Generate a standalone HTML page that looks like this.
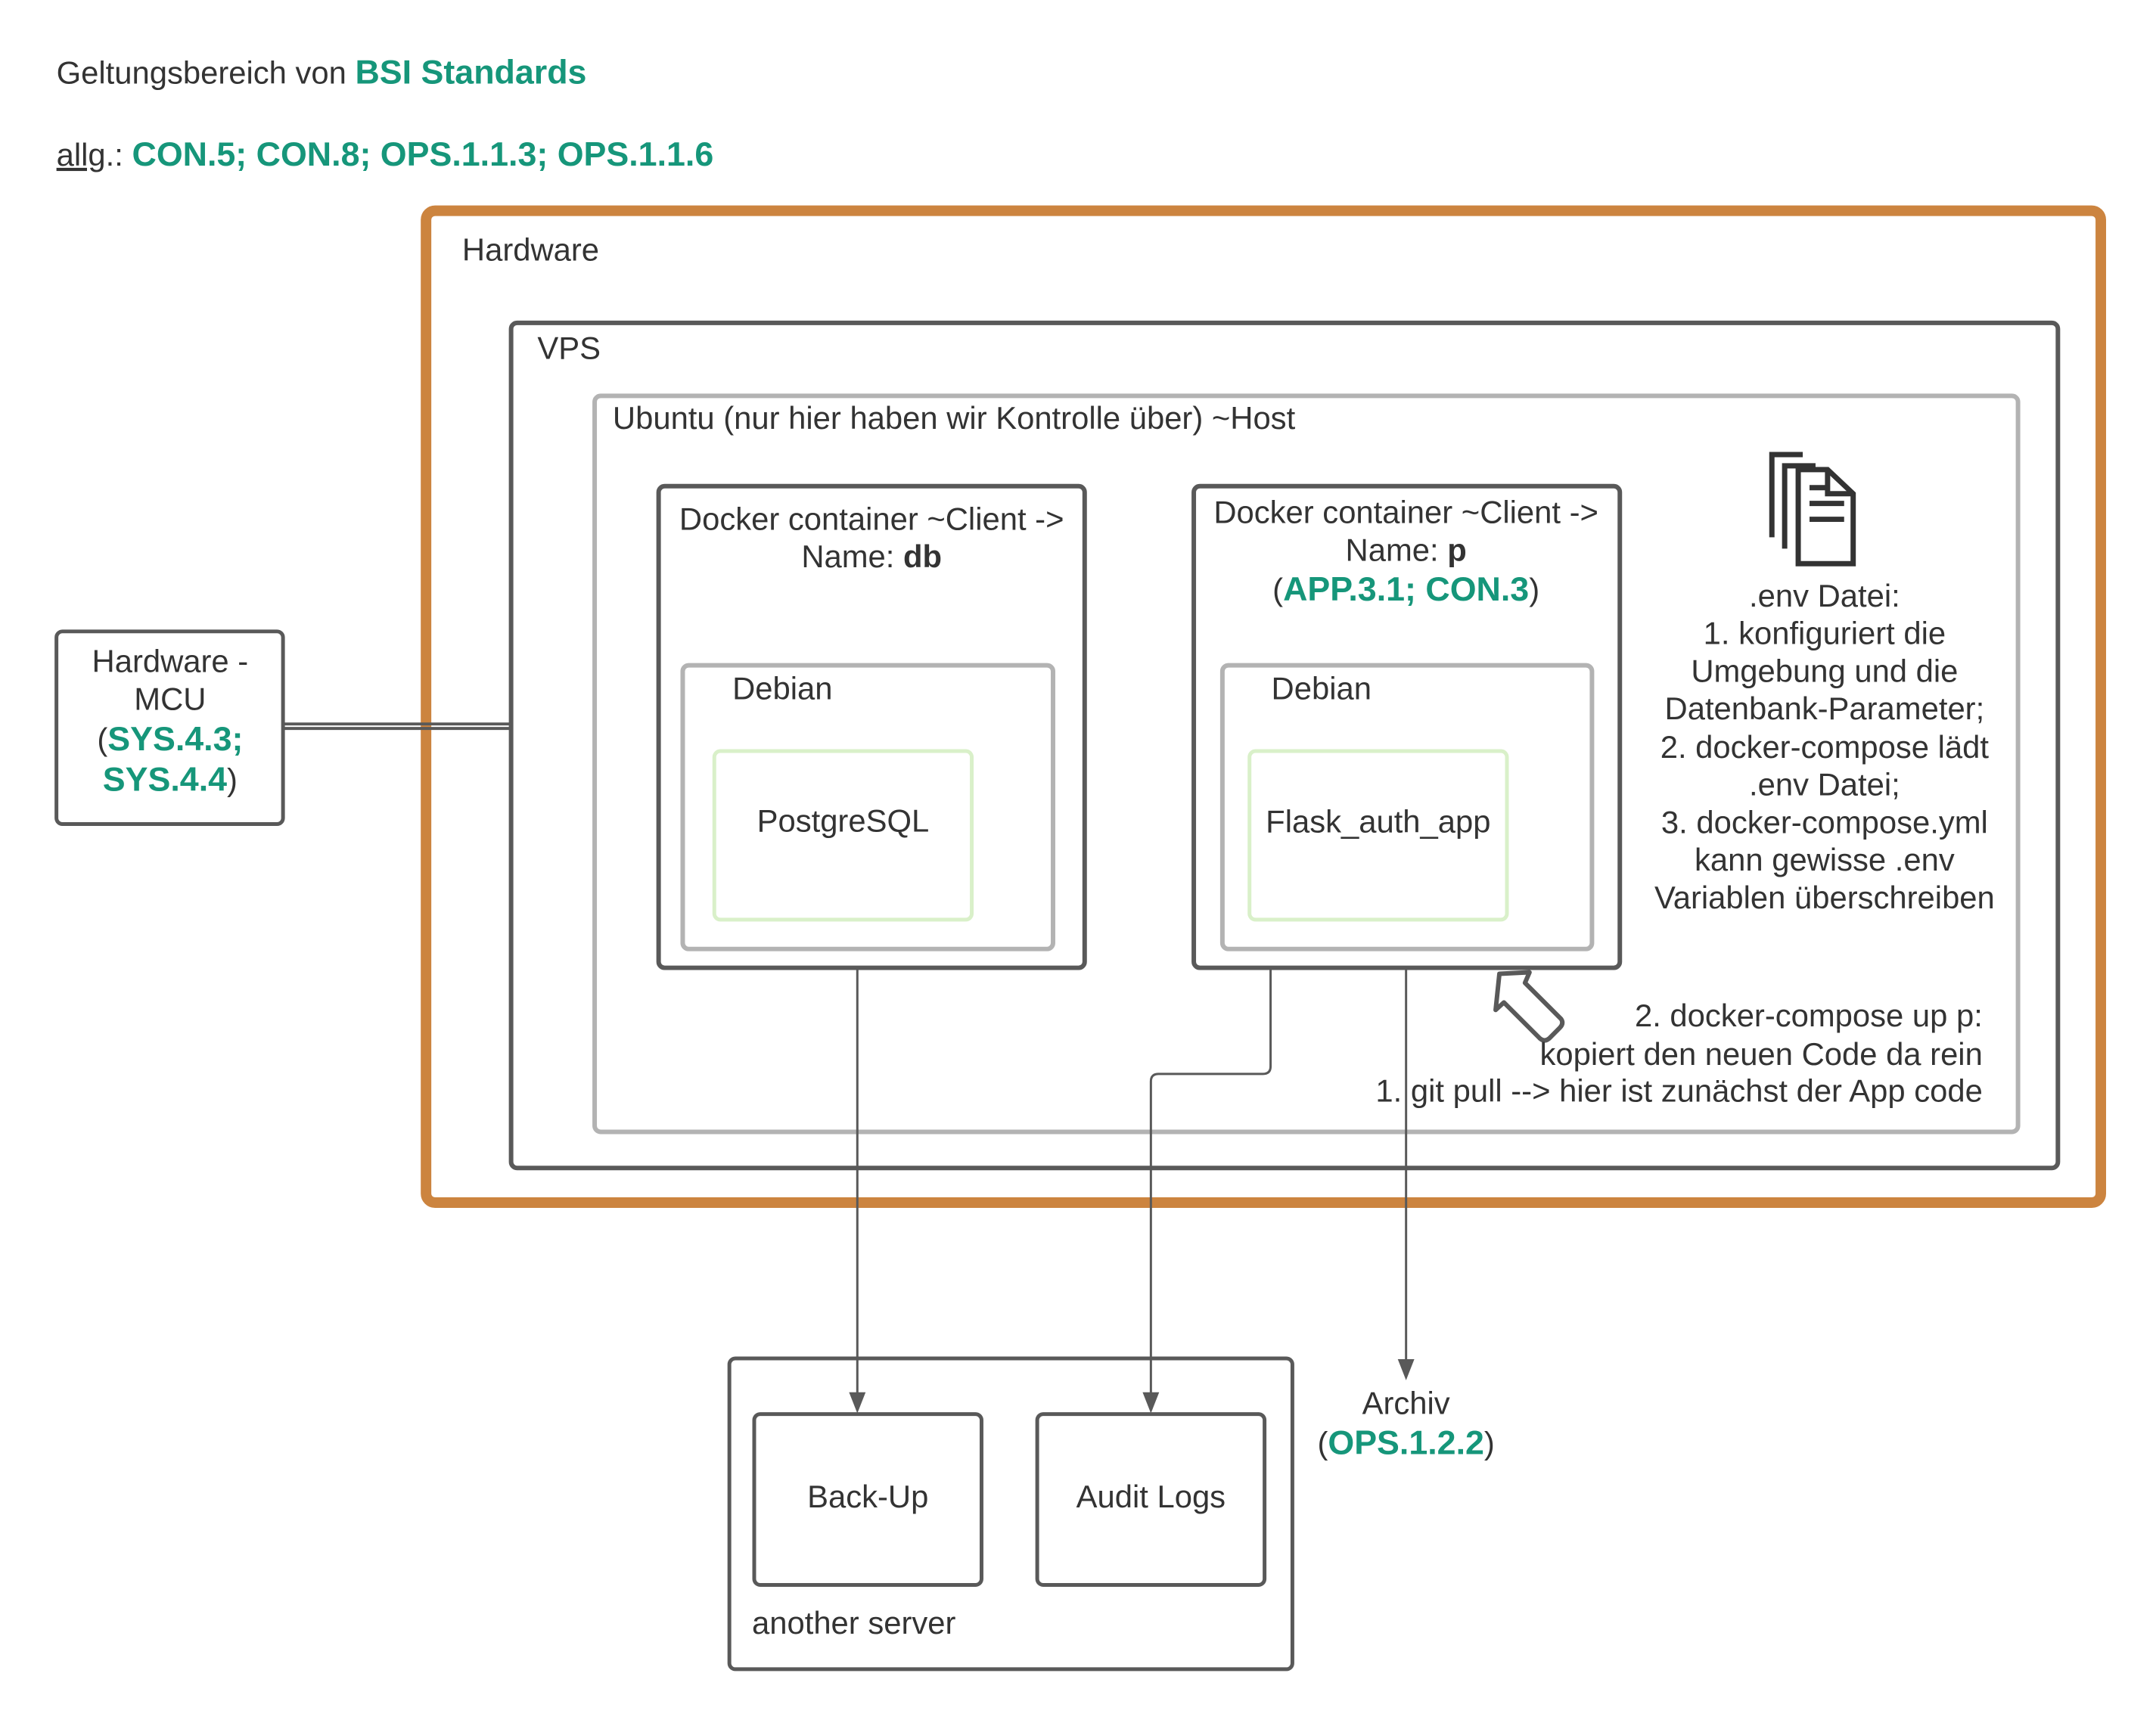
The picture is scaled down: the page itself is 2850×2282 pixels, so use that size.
<!DOCTYPE html>
<html><head><meta charset="utf-8"><style>
html,body{margin:0;padding:0;background:#fff;}
svg{display:block;}
text{font-family:"Liberation Sans",Arial,sans-serif;fill:#333;font-size:42px;}
.g{fill:#16967a;font-weight:bold;font-size:45px;}
.b{font-weight:bold;}
</style></head><body>
<svg width="2850" height="2282" viewBox="0 0 2850 2282" xmlns="http://www.w3.org/2000/svg">
<g transform="scale(0.995)">
<!-- header -->
<text x="75" y="111" font-size="44">Geltungsbereich von <tspan class="g" font-size="45">BSI Standards</tspan></text>
<text x="75" y="220" font-size="44"><tspan text-decoration="underline">allg</tspan>.: <tspan class="g" font-size="47">CON.5; CON.8; OPS.1.1.3; OPS.1.1.6</tspan></text>

<!-- Orange hardware -->
<rect x="566" y="280" width="2225" height="1318" rx="12" fill="none" stroke="#cc843f" stroke-width="14"/>
<text x="614" y="346">Hardware</text>

<!-- VPS -->
<rect x="679" y="429" width="2055" height="1123" rx="8" fill="none" stroke="#595959" stroke-width="6"/>
<text x="714" y="477">VPS</text>

<!-- Ubuntu -->
<rect x="790" y="526" width="1891" height="978" rx="8" fill="none" stroke="#b3b3b3" stroke-width="6"/>
<text x="814" y="570">Ubuntu (nur hier haben wir Kontrolle über) ~Host</text>

<!-- db container -->
<rect x="875" y="646" width="566" height="640" rx="8" fill="none" stroke="#595959" stroke-width="6"/>
<text x="1158" y="704" text-anchor="middle">Docker container ~Client -&gt;</text>
<text x="1158" y="754" text-anchor="middle">Name: <tspan class="b">db</tspan></text>
<rect x="907" y="884" width="492" height="377" rx="8" fill="none" stroke="#b3b3b3" stroke-width="6"/>
<text x="973" y="929">Debian</text>
<rect x="949" y="998" width="342" height="224" rx="8" fill="none" stroke="#d9f0c9" stroke-width="5"/>
<text x="1120" y="1105" text-anchor="middle">PostgreSQL</text>

<!-- p container -->
<rect x="1586" y="646" width="566" height="640" rx="8" fill="none" stroke="#595959" stroke-width="6"/>
<text x="1868" y="695" text-anchor="middle">Docker container ~Client -&gt;</text>
<text x="1868" y="745" text-anchor="middle">Name: <tspan class="b">p</tspan></text>
<text x="1868" y="798" text-anchor="middle">(<tspan class="g">APP.3.1; CON.3</tspan>)</text>
<rect x="1624" y="884" width="491" height="377" rx="8" fill="none" stroke="#b3b3b3" stroke-width="6"/>
<text x="1689" y="929">Debian</text>
<rect x="1660" y="998" width="342" height="224" rx="8" fill="none" stroke="#d9f0c9" stroke-width="5"/>
<text x="1831" y="1106" text-anchor="middle">Flask_auth_app</text>

<!-- doc icon -->
<g fill="none" stroke="#333" stroke-width="7" transform="translate(-8,0)">
<path d="M2362 714 V604 H2403"/>
<path d="M2379 729 V619 H2420"/>
<path d="M2397 749 V624 H2436 L2470 656 V749 Z"/>
<path d="M2436 624 V656 H2470"/>
<line x1="2412" y1="648" x2="2438" y2="648"/>
<line x1="2412" y1="669" x2="2458" y2="669"/>
<line x1="2412" y1="690" x2="2458" y2="690"/>
</g>
<g text-anchor="middle">
<text x="2424" y="806">.env Datei:</text>
<text x="2424" y="856">1. konfiguriert die</text>
<text x="2424" y="906">Umgebung und die</text>
<text x="2424" y="956">Datenbank-Parameter;</text>
<text x="2424" y="1007">2. docker-compose lädt</text>
<text x="2424" y="1057">.env Datei;</text>
<text x="2424" y="1107">3. docker-compose.yml</text>
<text x="2424" y="1157">kann gewisse .env</text>
<text x="2424" y="1207">Variablen überschreiben</text>
</g>

<!-- hollow arrow -->
<path d="M1992 1294 L2032 1292 L2026 1306 L2074 1354 Q2078 1360 2072 1366 L2058 1380 Q2052 1385 2046 1380 L1998 1332 L1987 1342 Z" fill="#fff" stroke="#595959" stroke-width="6" stroke-linejoin="round"/>

<g text-anchor="end">
<text x="2634" y="1364">2. docker-compose up p:</text>
<text x="2634" y="1415">kopiert den neuen Code da rein</text>
<text x="2634" y="1464">1. git pull --&gt; hier ist zunächst der App code</text>
</g>

<!-- MCU -->
<rect x="75" y="839" width="301" height="256" rx="8" fill="none" stroke="#595959" stroke-width="5"/>
<g text-anchor="middle">
<text x="226" y="893">Hardware -</text>
<text x="226" y="943">MCU</text>
<text x="226" y="997">(<tspan class="g">SYS.4.3;</tspan></text>
<text x="226" y="1051"><tspan class="g">SYS.4.4</tspan>)</text>
</g>
<line x1="378" y1="962" x2="679" y2="962" stroke="#595959" stroke-width="4"/>
<line x1="378" y1="968" x2="679" y2="968" stroke="#595959" stroke-width="4"/>

<!-- connectors -->
<g fill="none" stroke="#595959" stroke-width="3">
<path d="M1139 1289 V1854"/>
<path d="M1688 1289 V1417 Q1688 1427 1678 1427 H1539 Q1529 1427 1529 1437 V1854"/>
<path d="M1868 1289 V1810"/>
</g>
<g fill="#595959">
<path d="M1128 1850 L1150 1850 L1139 1878 Z"/>
<path d="M1518 1850 L1540 1850 L1529 1878 Z"/>
<path d="M1857 1806 L1879 1806 L1868 1834 Z"/>
</g>
<g text-anchor="middle">
<text x="1868" y="1879">Archiv</text>
<text x="1868" y="1932">(<tspan class="g">OPS.1.2.2</tspan>)</text>
</g>

<!-- another server -->
<rect x="969" y="1805" width="748" height="413" rx="8" fill="none" stroke="#595959" stroke-width="5"/>
<rect x="1002" y="1879" width="302" height="227" rx="8" fill="none" stroke="#595959" stroke-width="5"/>
<text x="1153" y="2003" text-anchor="middle">Back-Up</text>
<rect x="1378" y="1879" width="302" height="227" rx="8" fill="none" stroke="#595959" stroke-width="5"/>
<text x="1529" y="2003" text-anchor="middle">Audit Logs</text>
<text x="999" y="2171">another server</text>
</g>
</svg>
</body></html>
